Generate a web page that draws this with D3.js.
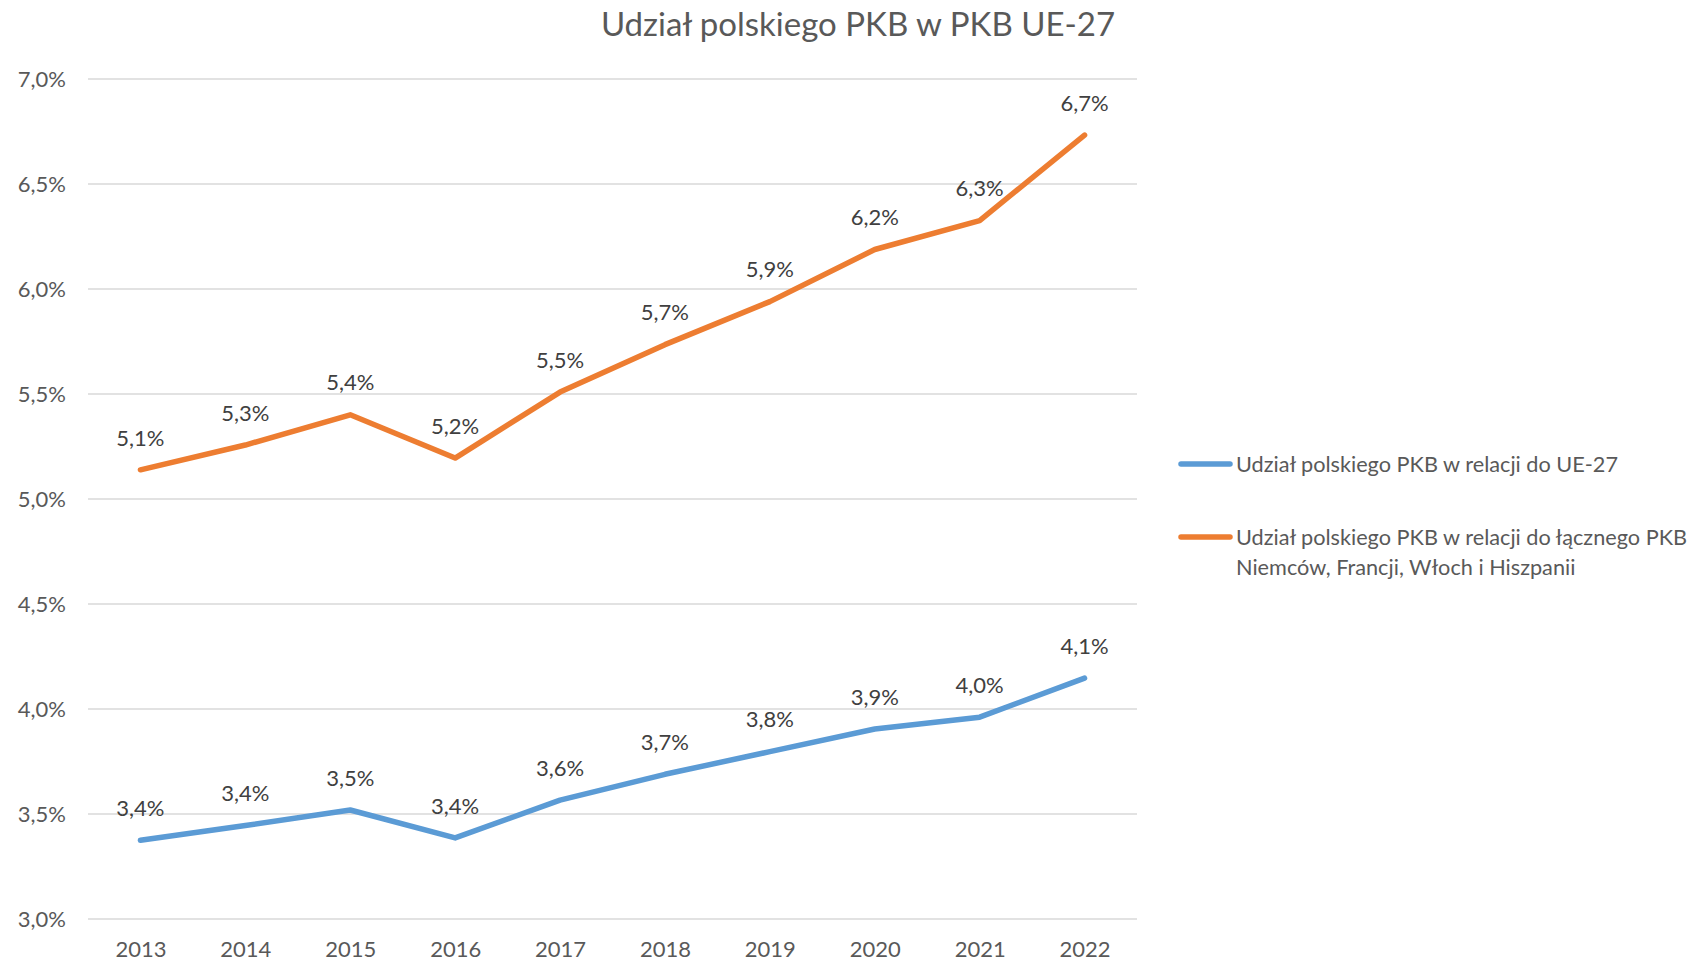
<!DOCTYPE html>
<html>
<head>
<meta charset="utf-8">
<script src="https://cdn.jsdelivr.net/npm/d3@7"></script>
<style>
  html, body { margin: 0; padding: 0; background: #fff; }
  svg { display: block; font-family: Lato, "Open Sans", sans-serif; }
</style>
</head>
<body>
<svg id="chart" width="1693" height="961"></svg>
<script>
const years = ["2013","2014","2015","2016","2017","2018","2019","2020","2021","2022"];
const seriesEU = [3.375, 3.445, 3.519, 3.386, 3.566, 3.689, 3.797, 3.905, 3.961, 4.147];
const seriesBig4 = [5.139, 5.257, 5.401, 5.195, 5.509, 5.735, 5.94, 6.188, 6.326, 6.733];
const yTicks = [3.0, 3.5, 4.0, 4.5, 5.0, 5.5, 6.0, 6.5, 7.0];
const seriesNames = [
  ["Udział polskiego PKB w relacji do UE-27"],
  ["Udział polskiego PKB w relacji do łącznego PKB", "Niemców, Francji, Włoch i Hiszpanii"]
];
const colors = ["#5B9BD5", "#ED7D31"];
const title = "Udział polskiego PKB w PKB UE-27";

const svg = d3.select("#chart");
const m = { left: 88, right: 1137, top: 79, bottom: 919 };

const x = d3.scalePoint().domain(years).range([m.left, m.right]).padding(0.5);
const y = d3.scaleLinear().domain([3, 7]).range([m.bottom, m.top]);

const fmt = v => d3.format(".1f")(v).replace(".", ",") + "%";

// gridlines
svg.append("g").selectAll("line").data(yTicks).join("line")
  .attr("x1", m.left).attr("x2", m.right)
  .attr("y1", d => y(d)).attr("y2", d => y(d))
  .attr("stroke", "#D9D9D9").attr("stroke-width", 1.5);

// y axis
const yAxis = svg.append("g").attr("transform", `translate(${m.left - 22},0)`)
  .call(d3.axisLeft(y).tickValues(yTicks).tickFormat(fmt).tickSize(0).tickPadding(0));
yAxis.select(".domain").remove();
yAxis.selectAll("text").attr("fill", "#595959").style("font-size", "22px").style("font-family", "Lato");

// x axis
const xAxis = svg.append("g").attr("transform", `translate(0,${m.bottom})`)
  .call(d3.axisBottom(x).tickSize(0).tickPadding(22));
xAxis.select(".domain").remove();
xAxis.selectAll("text").attr("fill", "#595959").style("font-size", "22px").style("font-family", "Lato");

// lines
const data = [seriesEU, seriesBig4];
const line = d3.line().x((d, i) => x(years[i])).y(d => y(d));
svg.append("g").selectAll("path").data(data).join("path")
  .attr("d", d => line(d))
  .attr("fill", "none")
  .attr("stroke", (d, i) => colors[i])
  .attr("stroke-width", 5.5)
  .attr("stroke-linecap", "round")
  .attr("stroke-linejoin", "round");

// data labels
data.forEach((s) => {
  svg.append("g").selectAll("text").data(s).join("text")
    .attr("x", (d, i) => x(years[i]))
    .attr("y", d => y(d) - 32)
    .attr("dy", "0.35em")
    .attr("text-anchor", "middle")
    .attr("fill", "#404040")
    .style("font-size", "22px")
    .text(d => fmt(d));
});

// title
svg.append("text")
  .attr("x", 858).attr("y", 24).attr("dy", "0.35em")
  .attr("text-anchor", "middle")
  .attr("fill", "#595959")
  .style("font-size", "33px")
  .text(title);

// legend
const legendY = [464, 537];
const lg = svg.append("g");
seriesNames.forEach((lines, i) => {
  lg.append("line")
    .attr("x1", 1181).attr("x2", 1230)
    .attr("y1", legendY[i]).attr("y2", legendY[i])
    .attr("stroke", colors[i]).attr("stroke-width", 5.5)
    .attr("stroke-linecap", "round");
  const t = lg.append("text")
    .attr("x", 1236).attr("y", legendY[i])
    .attr("fill", "#595959").style("font-size", "21.7px");
  lines.forEach((l, j) => {
    t.append("tspan").attr("x", 1236).attr("dy", j === 0 ? "0.35em" : "1.39em").text(l);
  });
});
</script>
</body>
</html>
